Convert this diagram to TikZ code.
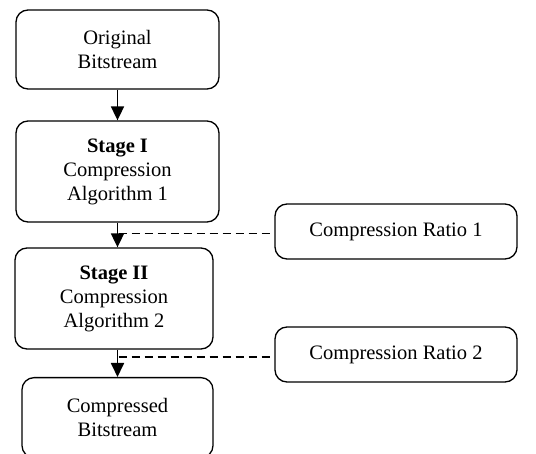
\documentclass[tikz,border=0pt]{standalone}
\usepackage{fontspec}
\setmainfont{Liberation Serif}
\usetikzlibrary{positioning,arrows.meta,calc}
\tikzset{
  stagebox/.style={rectangle,rounded corners=12pt,draw=black,line width=1.3pt,align=center,inner sep=0pt,font=\fontsize{20.5}{24}\selectfont},
  ratiobox/.style={stagebox,minimum width=242pt,minimum height=55pt},
  flowarrow/.style={-{Triangle[length=14pt,width=13pt]},line width=1.8pt},
  ratiolink/.style={line width=1.4pt,dash pattern=on 8pt off 5pt}
}
\begin{document}
\begin{tikzpicture}[x=1pt,y=-1pt]
  \useasboundingbox (0,0) rectangle (536,454);
  \node[stagebox,minimum width=203pt,minimum height=79pt] (orig) at (117.5,49.5) {Original\\Bitstream};
  \node[stagebox,minimum width=203pt,minimum height=101pt] (stagea) at (117.5,171.5) {\textbf{Stage I}\\Compression\\Algorithm 1};
  \node[stagebox,minimum width=198pt,minimum height=101pt] (stageb) at (114,298.5) {\textbf{Stage II}\\Compression\\Algorithm 2};
  \node[stagebox,minimum width=191pt,minimum height=80pt,anchor=north] (out) at (117.5,377) {Compressed\\Bitstream};
  \node[ratiobox] (ratioa) at (396,231.5) {Compression Ratio 1};
  \node[ratiobox] (ratiob) at (396,354.5) {Compression Ratio 2};
  \draw[flowarrow] (orig.south) -- (stagea.north);
  \draw[flowarrow] (stagea.south) -- (stagea.south |- stageb.north);
  \draw[flowarrow] (stagea.south |- stageb.south) -- (out.north);
  % taps on the arrows
  \coordinate (tapa) at ($(stagea.south)+(1,11)$);
  \coordinate (tapb) at ($(out.north)+(1,-20)$);
  \draw[ratiolink] (tapa) -- (tapa -| ratioa.west);
  \draw[ratiolink] (tapb) -- (tapb -| ratiob.west);
\end{tikzpicture}
\end{document}
